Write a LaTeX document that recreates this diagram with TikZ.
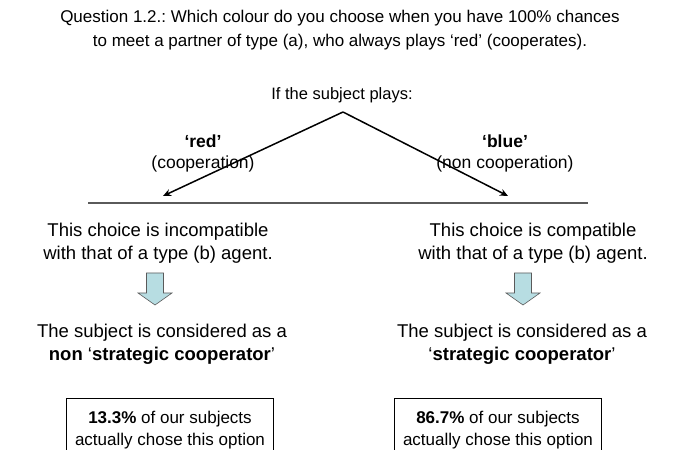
\documentclass[tikz,border=0pt]{standalone}
\usepackage{fontspec}
\setmainfont{Liberation Sans}
\usetikzlibrary{arrows.meta}
\definecolor{arrowfill}{RGB}{183,221,226}
\definecolor{linegray}{RGB}{90,90,90}
\frenchspacing
\begin{document}
\begin{tikzpicture}[x=1bp,y=-1bp,
  every node/.style={inner sep=0pt, align=center},
  titletext/.style={font=\fontsize{17bp}{24bp}\selectfont},
  plainlabel/.style={font=\fontsize{16.5bp}{18bp}\selectfont},
  choicelabel/.style={font=\fontsize{17.5bp}{22bp}\selectfont},
  bodytext/.style={font=\fontsize{18.5bp}{23bp}\selectfont},
  boxtext/.style={font=\fontsize{17bp}{22bp}\selectfont},
  conn/.style={line width=1.5bp, -{Stealth[length=8bp,width=7bp]}},
  sepline/.style={line width=1.1bp, draw=linegray},
  resbox/.style={boxtext, anchor=north, inner xsep=8bp, inner ysep=13bp},
  boxline/.style={line width=0.8bp},
  blockarrow/.pic={\draw[fill=arrowfill, draw=linegray, line width=0.6bp]
     (-8.5,0) -- (8.5,0) -- (8.5,20) -- (17,20) -- (0,32) -- (-17,20) -- (-8.5,20) -- cycle;}]
\useasboundingbox (0,0) rectangle (680,450);
\clip (0,0) rectangle (680,450);
\node[titletext] (title) at (340,30)
  {Question 1.2.: Which colour do you choose when you have 100\% chances\\to meet a partner of type (a), who always plays ‘red’ (cooperates).};
\node[plainlabel] (if) at (342,95) {If the subject plays:};
\coordinate (apex) at (343,112);
\node[choicelabel] (red) at (203,141) {\textbf{‘red’}};
\node[choicelabel] (coop) at (203,164) {(cooperation)};
\node[choicelabel] (blue) at (505,141) {\textbf{‘blue’}};
\node[choicelabel] (noncoop) at (505,164) {(non cooperation)};
\coordinate (lend) at (163,196);
\coordinate (rend) at (508,196);
\draw[conn] (apex) -- (lend);
\draw[conn] (apex) -- (rend);
\coordinate (hl) at (88,203);
\coordinate (hr) at (588,203);
\draw[sepline] (hl) -- (hr);
\node[bodytext] (lchoice) at (158,243) {This choice is incompatible\\with that of a type (b) agent.};
\node[bodytext] (rchoice) at (533,243) {This choice is compatible\\with that of a type (b) agent.};
\pic at (155,273) {blockarrow};
\pic at (523,273) {blockarrow};
\node[bodytext] (lsub) at (162,344) {The subject is considered as a\\\textbf{non} ‘\textbf{strategic cooperator}’};
\node[bodytext] (rsub) at (522,344) {The subject is considered as a\\‘\textbf{strategic cooperator}’};
\node[resbox] (lbox) at (170,398) {\textbf{13.3\%} of our subjects\\actually chose this option};
\node[resbox] (rbox) at (498,398) {\textbf{86.7\%} of our subjects\\actually chose this option};
\coordinate (bottom) at (0,460);
\draw[boxline] (lbox.west |- bottom) -- (lbox.north west) -- (lbox.north east) -- (lbox.east |- bottom);
\draw[boxline] (rbox.west |- bottom) -- (rbox.north west) -- (rbox.north east) -- (rbox.east |- bottom);
\end{tikzpicture}
\end{document}
